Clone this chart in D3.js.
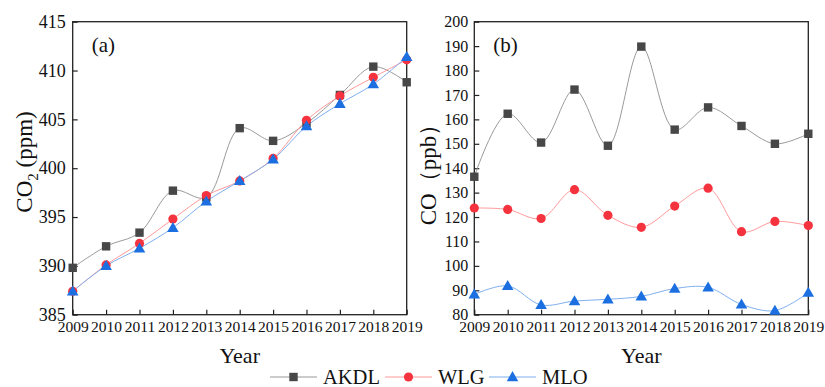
<!DOCTYPE html>
<html>
<head>
<meta charset="utf-8">
<script src="https://cdn.jsdelivr.net/npm/d3@7"></script>
<style>
  body { margin: 0; background: #fff; }
  svg { font-family: "Liberation Serif", "Times New Roman", serif; }
</style>
</head>
<body>
<div id="chart"></div>
<script>
// years and series
var years = [2009, 2010, 2011, 2012, 2013, 2014, 2015, 2016, 2017, 2018, 2019];

var co2AKDL = [389.8, 392.0, 393.4, 397.7, 397.0, 404.1, 402.8, 404.6, 407.5, 410.4, 408.8];
var co2WLG  = [387.4, 390.1, 392.3, 394.8, 397.2, 398.7, 401.0, 404.9, 407.4, 409.3, 411.1];
var co2MLO  = [387.4, 390.0, 391.8, 393.9, 396.6, 398.7, 400.9, 404.3, 406.6, 408.6, 411.4];

var coAKDL = [136.5, 162.3, 150.5, 172.2, 149.2, 189.8, 155.8, 164.9, 157.3, 150.0, 154.1];
var coWLG  = [123.7, 123.1, 119.4, 131.2, 120.7, 115.8, 124.5, 131.8, 114.0, 118.2, 116.5];
var coMLO  = [88.3, 91.8, 84.0, 85.6, 86.3, 87.5, 90.7, 91.2, 84.2, 81.7, 89.0];

var co2Ticks = [385, 390, 395, 400, 405, 410, 415];
var coTicks = [80, 90, 100, 110, 120, 130, 140, 150, 160, 170, 180, 190, 200];

var seriesNames = ['AKDL', 'WLG', 'MLO'];
var lineColors = ['#9a9a9a', '#ff9a9a', '#80b0f0'];
var markColors = ['#474747', '#f5333f', '#1b6fe0'];

var W = 825, H = 387;
var svg = d3.select('#chart').append('svg')
    .attr('width', W).attr('height', H);

var plotTop = 21.7, plotBottom = 314.7;

function marker(g, i, x, y) {
    if (i === 0) {
        g.append('rect').attr('x', x - 4.2).attr('y', y - 4.2)
            .attr('width', 8.4).attr('height', 8.4).attr('fill', markColors[0]);
    } else if (i === 1) {
        g.append('circle').attr('cx', x).attr('cy', y).attr('r', 4.6)
            .attr('fill', markColors[1]);
    } else {
        g.append('path').attr('d', d3.symbol(d3.symbolTriangle, 58)())
            .attr('transform', 'translate(' + x + ',' + (y + 0.8) + ')')
            .attr('fill', markColors[2]);
    }
}

function panel(opts) {
    var x = d3.scaleLinear().domain([2009, 2019]).range([opts.left, opts.right]);
    var y = d3.scaleLinear().domain(opts.domain).range([plotBottom, plotTop]);
    var g = svg.append('g');

    // frame
    g.append('rect')
        .attr('x', opts.left).attr('y', plotTop)
        .attr('width', opts.right - opts.left).attr('height', plotBottom - plotTop)
        .attr('fill', 'none').attr('stroke', '#222').attr('stroke-width', 1.3);

    // x axis (ticks inward)
    var xa = g.append('g').attr('transform', 'translate(0,' + plotBottom + ')')
        .call(d3.axisBottom(x).tickValues(years).tickFormat(d3.format('d'))
            .tickSizeInner(-5).tickSizeOuter(0).tickPadding(9));
    xa.select('.domain').remove();
    xa.selectAll('line').attr('stroke', '#222').attr('stroke-width', 1.2);
    xa.selectAll('text').attr('font-size', 15.5).attr('fill', '#111')
        .attr('font-family', '"Liberation Serif", serif').attr('dy', '0.55em');

    var ya = g.append('g').attr('transform', 'translate(' + opts.left + ',0)')
        .call(d3.axisLeft(y).tickValues(opts.ticks)
            .tickSizeInner(-5).tickSizeOuter(0).tickPadding(opts.tickPad));
    ya.select('.domain').remove();
    ya.selectAll('line').attr('stroke', '#222').attr('stroke-width', 1.2);
    ya.selectAll('text').attr('font-size', opts.tickFont).attr('fill', '#111')
        .attr('font-family', '"Liberation Serif", serif');

    // lines and markers
    opts.series.forEach(function(vals, i) {
        var line = d3.line()
            .x(function(d, j) { return x(years[j]); })
            .y(function(d) { return y(d); })
            .curve(d3.curveCatmullRom.alpha(0.5));
        g.append('path').datum(vals).attr('d', line)
            .attr('fill', 'none').attr('stroke', lineColors[i]).attr('stroke-width', 1);
    });
    opts.series.forEach(function(vals, i) {
        vals.forEach(function(v, j) { marker(g, i, x(years[j]), y(v)); });
    });

    // panel label
    g.append('text').attr('x', opts.left + 19).attr('y', 52)
        .attr('font-size', 21).attr('fill', '#111').text(opts.tag);

    // axis titles
    g.append('text').attr('x', (opts.left + opts.right) / 2).attr('y', 363)
        .attr('text-anchor', 'middle').attr('font-size', 22).attr('fill', '#111')
        .text('Year');
    return g;
}

var ga = panel({ left: 72.7, right: 406.7, domain: [385, 415], ticks: co2Ticks, tickFont: 18,
    tickPad: 7, series: [co2AKDL, co2WLG, co2MLO], tag: '(a)' });
var gb = panel({ left: 474.3, right: 808.3, domain: [80, 200], ticks: coTicks, tickFont: 16,
    tickPad: 6, series: [coAKDL, coWLG, coMLO], tag: '(b)' });

// y titles
var t1 = svg.append('text').attr('transform', 'translate(32,162) rotate(-90)')
    .attr('text-anchor', 'middle').attr('font-size', 23).attr('fill', '#111');
t1.append('tspan').text('CO');
t1.append('tspan').attr('font-size', 15).attr('dy', 6).text('2');
t1.append('tspan').attr('dy', -6).text(' (ppm)');

svg.append('text').attr('transform', 'translate(436,169) rotate(-90)')
    .attr('text-anchor', 'middle').attr('font-size', 23).attr('fill', '#111')
    .text('CO（ppb）');

// legend
var legX = [270, 385, 489];
var legend = svg.append('g');
seriesNames.forEach(function(name, i) {
    var lx = legX[i];
    legend.append('line').attr('x1', lx).attr('x2', lx + 47)
        .attr('y1', 377).attr('y2', 377)
        .attr('stroke', lineColors[i]).attr('stroke-width', 1.2);
    marker(legend, i, lx + 23.5, 377);
    legend.append('text').attr('x', lx + 53).attr('y', 384)
        .attr('font-size', 20.5).attr('fill', '#111').text(name);
});
</script>
</body>
</html>
